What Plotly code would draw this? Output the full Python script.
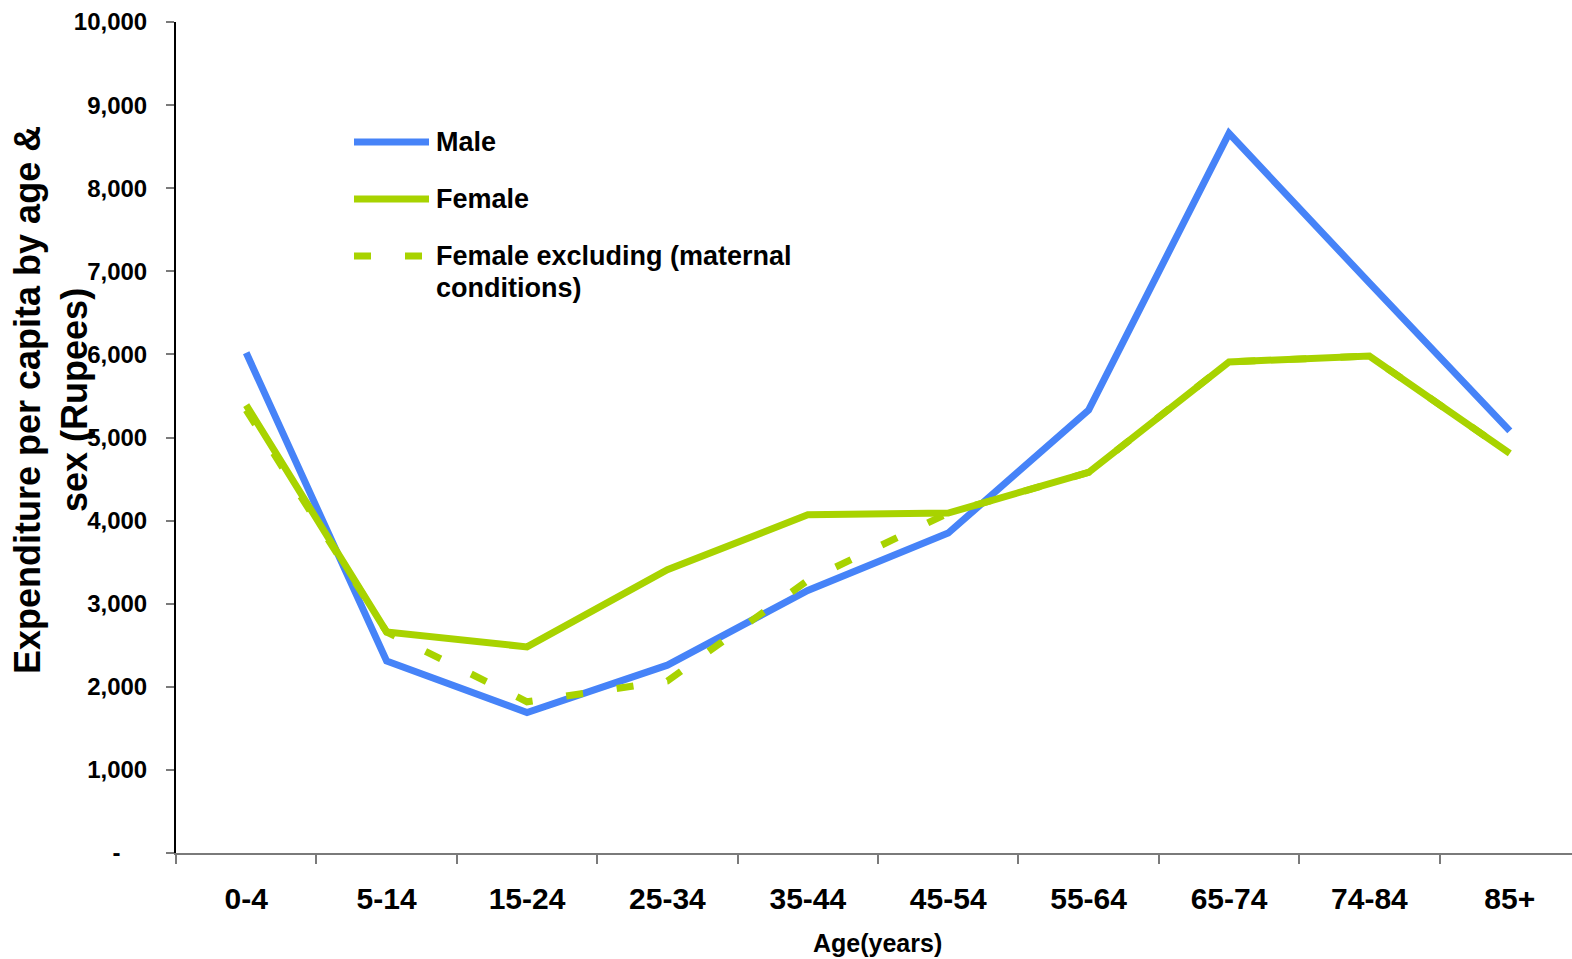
import plotly.graph_objects as go

# Health expenditure per capita (Rupees) by age group and sex
age_groups = ["0-4", "5-14", "15-24", "25-34", "35-44", "45-54",
              "55-64", "65-74", "74-84", "85+"]
male = [6020, 2310, 1690, 2260, 3160, 3850, 5330, 8660, 6860, 5080]
female = [5390, 2660, 2480, 3410, 4070, 4090, 4580, 5910, 5980, 4810]
female_excl_maternal = [5330, 2660, 1820, 2070, 3280, 4090, 4580, 5910, 5980, 4810]

y_tick_values = list(range(0, 10001, 1000))
y_tick_labels = ["-\u00a0\u00a0\u00a0\u00a0"] + [f"{v:,}" for v in y_tick_values[1:]]

BLUE = "#4683F8"
GREEN = "#A8D300"
FONT = "Liberation Sans, Arial, sans-serif"

W, H = 1572, 959
L, R, T, B = 176, 0, 22, 106
PW, PH = W - L - R, H - T - B


def px_x(px):
    return (px - L) / PW


def px_y(py):
    return (H - B - py) / PH


fig = go.Figure()

fig.add_trace(go.Scatter(
    x=age_groups, y=male, mode="lines", name="Male",
    line=dict(color=BLUE, width=7), showlegend=False))
fig.add_trace(go.Scatter(
    x=age_groups, y=female_excl_maternal, mode="lines",
    name="Female excluding (maternal conditions)",
    line=dict(color=GREEN, width=7, dash="17px,34px"), showlegend=False))
fig.add_trace(go.Scatter(
    x=age_groups, y=female, mode="lines", name="Female",
    line=dict(color=GREEN, width=7), showlegend=False))

# Legend drawn by hand so the sample lines are long
legend_font = dict(family=FONT, size=27, color="black", weight="bold")
legend_rows = [
    ("Male", BLUE, "solid", 142),
    ("Female", GREEN, "solid", 199),
    ("Female excluding (maternal", GREEN, "17px,34px", 256),
]
shapes = []
annotations = []
for label, color, dash, row_y in legend_rows:
    shapes.append(dict(type="line", xref="paper", yref="paper",
                       x0=px_x(354), x1=px_x(429), y0=px_y(row_y), y1=px_y(row_y),
                       line=dict(color=color, width=7, dash=dash)))
    annotations.append(dict(xref="paper", yref="paper", x=px_x(434), y=px_y(row_y),
                            xanchor="left", yanchor="middle", showarrow=False,
                            text=label, font=legend_font))
annotations.append(dict(xref="paper", yref="paper", x=px_x(434), y=px_y(288),
                        xanchor="left", yanchor="middle", showarrow=False,
                        text="conditions)", font=legend_font))

# Axis titles
annotations.append(dict(xref="paper", yref="paper", x=px_x(51), y=px_y(400),
                        xanchor="center", yanchor="middle", showarrow=False, textangle=-90,
                        text="Expenditure per capita by age &<br>sex (Rupees)",
                        font=dict(family=FONT, size=36, color="black", weight="bold")))
annotations.append(dict(xref="paper", yref="paper", x=px_x(877), y=px_y(943),
                        xanchor="center", yanchor="middle", showarrow=False,
                        text="Age(years)",
                        font=dict(family=FONT, size=25, color="black", weight="bold")))

fig.update_layout(
    width=W, height=H,
    margin=dict(l=L, r=R, t=T, b=B, pad=0),
    paper_bgcolor="white", plot_bgcolor="white",
    showlegend=False,
    shapes=shapes,
    annotations=annotations,
    xaxis=dict(
        type="category",
        range=[-0.5, -0.5 + PW / 140.4],
        showgrid=False, zeroline=False,
        showline=True, linecolor="#7a7a7a", linewidth=2,
        ticks="outside", tickson="boundaries", ticklen=9, tickwidth=2, tickcolor="#7a7a7a",
        tickfont=dict(family=FONT, size=30, color="black", weight="bold"),
        ticklabelstandoff=18,
    ),
    yaxis=dict(
        range=[0, 10000],
        tickvals=y_tick_values, ticktext=y_tick_labels,
        showgrid=False, zeroline=False,
        showline=True, linecolor="black", linewidth=2,
        ticks="outside", ticklen=8, tickwidth=2, tickcolor="#7a7a7a",
        tickfont=dict(family=FONT, size=24, color="black", weight="bold"),
        ticklabelstandoff=14,
    ),
)

fig.write_html("out.html")
